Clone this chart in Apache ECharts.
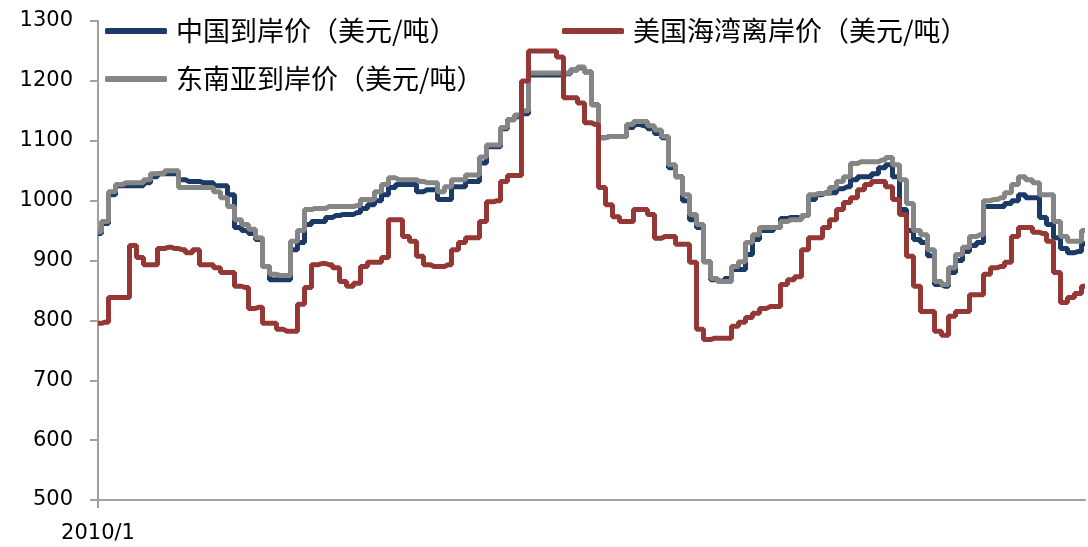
<!DOCTYPE html>
<html>
<head>
<meta charset="utf-8">
<script src="https://cdn.jsdelivr.net/npm/echarts@6/dist/echarts.min.js"></script>
<style>html,body{margin:0;padding:0;background:#fff;}#c{width:1088px;height:547px;}</style>
</head>
<body>
<div id="c"></div>
<script>
var firstLabel = '2010/1';
var yTicks = [500, 600, 700, 800, 900, 1000, 1100, 1200, 1300];
var seriesNames = ['中国到岸价（美元/吨）', '美国海湾离岸价（美元/吨）', '东南亚到岸价（美元/吨）'];

var china = [945,962,1010,1025,1025,1025,1025,1030,1040,1045,1045,1045,1035,1032,1032,1030,1030,1025,1025,1010,
955,950,945,935,890,868,868,868,918,930,960,965,965,972,975,977,977,980,987,993,
1000,1010,1022,1027,1027,1027,1015,1018,1018,1002,1002,1023,1023,1032,1032,1063,1090,1090,1120,1135,
1140,1145,1210,1210,1210,1210,1210,1212,1218,1222,1215,1160,1105,1107,1107,1107,1122,1127,1125,1120,
1112,1105,1055,1040,1000,968,955,898,868,865,870,885,885,910,935,950,950,955,970,972,
972,975,1002,1010,1013,1013,1020,1023,1035,1040,1040,1045,1055,1060,1040,985,950,935,930,908,
860,857,880,900,915,925,930,990,990,990,995,1000,1010,1005,1005,972,960,938,920,913,
915,928];

var usGulf = [795,797,838,838,838,925,905,893,893,920,922,920,918,913,918,893,893,888,880,880,
857,855,820,822,795,795,785,782,782,827,855,893,895,893,888,865,857,862,890,897,
897,905,968,968,940,932,907,893,890,890,893,918,930,938,938,965,998,1000,1032,1042,
1042,1200,1250,1250,1250,1250,1240,1172,1172,1163,1130,1127,1022,993,973,965,965,985,985,977,
937,940,940,927,927,897,785,768,770,770,770,790,797,805,812,820,823,823,860,868,
873,918,938,938,955,968,985,997,1005,1018,1027,1032,1032,1023,1002,977,907,857,815,815,
782,775,807,815,815,843,843,877,888,890,897,940,955,955,947,945,932,880,830,838,
845,857];

var seAsia = [948,965,1015,1027,1030,1030,1030,1035,1045,1045,1050,1050,1022,1022,1022,1022,1022,1015,1005,990,
968,960,952,938,890,877,875,875,932,950,985,987,987,990,990,990,990,992,1002,1002,
1015,1027,1038,1035,1035,1035,1032,1030,1030,1015,1023,1035,1035,1043,1043,1073,1093,1093,1122,1135,
1143,1150,1213,1213,1213,1213,1213,1213,1218,1223,1215,1160,1105,1107,1107,1107,1127,1132,1132,1125,
1118,1107,1060,1040,1010,977,960,898,870,865,865,890,898,930,943,955,955,955,965,968,
968,975,1010,1012,1012,1022,1032,1040,1062,1065,1065,1065,1068,1072,1060,1035,995,950,943,918,
865,860,888,910,922,940,943,1000,1002,1005,1013,1027,1040,1035,1030,1010,1010,965,940,932,
932,950];

var categories = china.map(function (v, i) { return i === 0 ? firstLabel : ''; });

var colors = ['#1B3A66', '#953735', '#858585'];
var axisColor = '#A0A0A0';
var cjk = '"Noto Sans CJK SC", "Noto Sans", sans-serif';

function legendFor(name, left, top) {
  return {
    data: [name], left: left, top: top, padding: 0, itemWidth: 62, itemHeight: 6,
    icon: 'roundRect', itemGap: 0,
    textStyle: { fontFamily: cjk, fontSize: 27, color: '#000', lineHeight: 30, padding: [0, 0, 0, 4] }
  };
}

var chart = echarts.init(document.getElementById('c'), null, { renderer: 'canvas' });
chart.setOption({
  animation: false,
  backgroundColor: '#fff',
  color: colors,
  grid: { left: 98, right: 3, top: 21, bottom: 47, containLabel: false },
  legend: [
    legendFor(seriesNames[0], 105, 16),
    legendFor(seriesNames[1], 562, 16),
    legendFor(seriesNames[2], 105, 64)
  ],
  xAxis: {
    type: 'category', data: categories, boundaryGap: false,
    axisLine: { lineStyle: { color: axisColor, width: 2 } },
    axisTick: { show: true, length: 8, interval: function (i) { return i === 0; }, lineStyle: { color: axisColor, width: 2 } },
    axisLabel: { interval: 0, margin: 23, color: '#000', fontFamily: 'DejaVu Sans', fontSize: 21 },
    splitLine: { show: false }
  },
  yAxis: {
    type: 'value', min: yTicks[0], max: yTicks[yTicks.length - 1], interval: 100,
    axisLine: { show: true, lineStyle: { color: axisColor, width: 2 } },
    axisTick: { show: true, length: 8, lineStyle: { color: axisColor, width: 2 } },
    axisLabel: { margin: 25, color: '#000', fontFamily: 'DejaVu Sans', fontSize: 21,
      formatter: function (v) { return String(v); } },
    splitLine: { show: false }
  },
  series: [
    { name: seriesNames[0], type: 'line', data: china, step: 'middle', showSymbol: false, z: 2,
      lineStyle: { width: 5, color: colors[0] }, itemStyle: { color: colors[0] } },
    { name: seriesNames[2], type: 'line', data: seAsia, step: 'middle', showSymbol: false, z: 3,
      lineStyle: { width: 5, color: colors[2] }, itemStyle: { color: colors[2] } },
    { name: seriesNames[1], type: 'line', data: usGulf, step: 'middle', showSymbol: false, z: 4,
      lineStyle: { width: 5, color: colors[1] }, itemStyle: { color: colors[1] } }
  ]
});
</script>
</body>
</html>
